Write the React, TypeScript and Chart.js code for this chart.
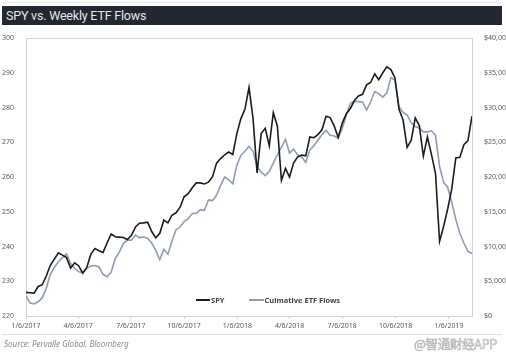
import React, { useEffect, useRef } from "react";
import { Chart, registerables } from "chart.js";

Chart.register(...registerables);

// Weekly observations starting 1/6/2017 (index = weeks since 1/6/2017)
const spy: number[] = [
  226.8, 226.7, 226.6, 228.5, 229.0, 231.5, 234.6, 236.4, 238.2, 237.5,
  236.8, 233.8, 235.3, 234.4, 232.3, 234.0, 237.8, 239.4, 238.8, 238.3,
  241.0, 243.6, 242.8, 242.7, 242.6, 242.0, 243.2, 245.6, 246.7, 246.8,
  247.0, 244.3, 242.5, 243.8, 247.6, 246.8, 249.0, 249.7, 251.3, 254.3,
  255.2, 256.9, 258.3, 258.3, 258.0, 258.5, 260.1, 264.0, 265.3, 266.4,
  267.2, 266.5, 272.5, 276.8, 279.5, 285.8, 276.8, 261.2, 272.5, 274.0,
  269.0, 278.5, 274.6, 259.0, 262.5, 260.0, 264.0, 265.8, 266.3, 266.1,
  271.5, 271.3, 272.2, 273.6, 277.5, 277.1, 274.7, 271.4, 275.5, 278.2,
  279.7, 282.0, 283.3, 283.8, 286.5, 287.2, 289.7, 288.0, 290.0, 291.7,
  290.9, 288.5, 279.5, 276.4, 268.5, 270.5, 277.0, 274.8, 266.0, 271.5,
  266.5, 261.0, 241.5, 245.8, 250.8, 256.5, 265.5, 265.7, 269.3, 270.5,
  277.5,
];

const etfFlows: number[] = [
  2900, 1850, 1750, 2050, 2600, 4000, 6000, 7000, 7800, 8400,
  8900, 7550, 6900, 6350, 6250, 6850, 7200, 7250, 7050, 6000,
  5650, 6300, 8250, 9200, 10400, 10950, 10900, 11650, 11250, 11400,
  11150, 10500, 9450, 8100, 9600, 8900, 10800, 12400, 12800, 13600,
  14000, 14750, 14750, 15300, 15200, 16700, 16600, 17400, 18800, 20000,
  19600, 19050, 21700, 23150, 23700, 24400, 23700, 21500, 20700, 20200,
  20800, 22000, 23200, 24300, 25400, 23450, 24000, 23200, 22850, 22100,
  23900, 24500, 25300, 26100, 26700, 26000, 25900, 25600, 27000, 28900,
  30600, 30900, 30850, 30800, 29650, 30800, 32300, 32000, 31500, 32100,
  34300, 33900, 30100, 29300, 28900, 27800, 27250, 27050, 26500, 26500,
  26650, 26000, 21500, 19250, 18500, 16400, 13900, 11900, 10500, 9300,
  9000,
];

const tickLabels: string[] = [
  "1/6/2017", "4/6/2017", "7/6/2017", "10/6/2017", "1/6/2018",
  "4/6/2018", "7/6/2018", "10/6/2018", "1/6/2019",
];
// days after 1/6/2017 for each tick label
const tickDays: number[] = [0, 90, 181, 273, 365, 455, 546, 638, 730];

const seriesNames: string[] = ["SPY", "Culmative ETF Flows"];
const title = "SPY vs. Weekly ETF Flows";
const source = "Source: Pervalle Global, Bloomberg";

const SPY_COLOR = "#1c1c1c";
const ETF_COLOR = "#8d9db2";
const AXIS_COLOR = "#d4d4d4";
const TICK_COLOR = "#5a5a5a";

const boxPlugin = {
  id: "boxPlugin",
  beforeDatasetsDraw(chart: any) {
    const { ctx, chartArea } = chart;
    ctx.save();
    ctx.strokeStyle = AXIS_COLOR;
    ctx.lineWidth = 1;
    ctx.strokeRect(
      Math.round(chartArea.left) + 0.5,
      Math.round(chartArea.top) + 0.5,
      Math.round(chartArea.right - chartArea.left),
      Math.round(chartArea.bottom - chartArea.top)
    );
    ctx.restore();
  },
};

export default function App() {
  const ref = useRef<HTMLCanvasElement | null>(null);

  useEffect(() => {
    if (!ref.current) return;
    const weeks = spy.map((_, i) => i);
    const tickFont = { family: "'Noto Sans', 'DejaVu Sans', sans-serif", size: 7 };
    const chart = new Chart(ref.current, {
      type: "line",
      data: {
        datasets: [
          {
            label: seriesNames[0],
            data: weeks.map((w, i) => ({ x: w, y: spy[i] })),
            borderColor: SPY_COLOR,
            borderWidth: 1.6,
            pointRadius: 0,
            tension: 0,
            yAxisID: "y",
          },
          {
            label: seriesNames[1],
            data: weeks.map((w, i) => ({ x: w, y: etfFlows[i] })),
            borderColor: ETF_COLOR,
            borderWidth: 1.6,
            pointRadius: 0,
            tension: 0,
            yAxisID: "y2",
          },
        ],
      },
      options: {
        animation: false,
        responsive: false,
        maintainAspectRatio: false,
        layout: { padding: { top: 38, left: 0, right: 0, bottom: 24 } },
        plugins: {
          legend: { display: false },
          tooltip: { enabled: false },
          title: { display: false },
        },
        scales: {
          x: {
            type: "linear",
            min: 0,
            max: spy.length - 1,
            afterBuildTicks(scale: any) {
              scale.ticks = tickDays.map((d) => ({ value: d / 7 }));
            },
            afterFit(scale: any) {
              scale.height = 16;
            },
            ticks: {
              autoSkip: false,
              maxRotation: 0,
              color: TICK_COLOR,
              font: tickFont,
              padding: 3,
              callback: (_v: any, i: number) => tickLabels[i],
            },
            grid: {
              display: true,
              drawOnChartArea: false,
              drawTicks: true,
              tickLength: 3,
              color: AXIS_COLOR,
            },
            border: { display: true, color: AXIS_COLOR },
          },
          y: {
            position: "left",
            min: 220,
            max: 300,
            afterFit(scale: any) {
              scale.width = 26;
            },
            ticks: {
              stepSize: 10,
              color: TICK_COLOR,
              font: tickFont,
              padding: 4,
            },
            grid: { display: false },
            border: { display: true, color: AXIS_COLOR },
          },
          y2: {
            position: "right",
            min: 0,
            max: 40000,
            afterFit(scale: any) {
              scale.width = 34;
            },
            ticks: {
              stepSize: 5000,
              color: TICK_COLOR,
              font: tickFont,
              padding: 4,
              callback: (v: any) => "$" + Number(v).toLocaleString("en-US"),
            },
            grid: { display: false },
            border: { display: true, color: AXIS_COLOR },
          },
        },
      },
      plugins: [boxPlugin],
    } as any);
    return () => chart.destroy();
  }, []);

  const legendText: React.CSSProperties = {
    fontFamily: "'Noto Sans', 'DejaVu Sans', sans-serif",
    fontSize: 7.5,
    fontWeight: 700,
    color: "#444",
    lineHeight: "10px",
  };

  return (
    <div
      style={{
        position: "fixed",
        left: 0,
        top: 0,
        width: 506,
        height: 356,
        background: "#ffffff",
        overflow: "hidden",
      }}
    >
      <div
        style={{
          position: "absolute",
          left: 2,
          top: 2,
          width: 500,
          height: 1,
          background: "#e4e4e4",
        }}
      />
      <div
        style={{
          position: "absolute",
          left: 2,
          top: 6,
          width: 500,
          height: 19,
          background: "#222732",
        }}
      />
      <div
        style={{
          position: "absolute",
          left: 6,
          top: 6,
          height: 19,
          lineHeight: "19px",
          color: "#e6e6e6",
          fontFamily: "Roboto, 'Liberation Sans', sans-serif",
          fontSize: 12.5,
          letterSpacing: -0.2,
        }}
      >
        {title}
      </div>
      <canvas
        ref={ref}
        width={506}
        height={356}
        style={{ position: "absolute", left: 0, top: 0, width: 506, height: 356 }}
      />
      <div
        style={{
          position: "absolute",
          left: 196,
          top: 295,
          display: "flex",
          alignItems: "center",
          ...legendText,
        }}
      >
        <span style={{ display: "inline-block", width: 14, height: 1.5, background: SPY_COLOR }} />
        <span style={{ marginLeft: 1 }}>{seriesNames[0]}</span>
        <span
          style={{
            display: "inline-block",
            width: 15,
            height: 1.5,
            background: ETF_COLOR,
            marginLeft: 24,
          }}
        />
        <span style={{ marginLeft: 1 }}>{seriesNames[1]}</span>
      </div>
      <div
        style={{
          position: "absolute",
          left: 2,
          top: 334,
          width: 500,
          height: 1,
          background: "#e2e2e2",
        }}
      />
      <div
        style={{
          position: "absolute",
          left: 4,
          top: 338,
          fontFamily: "'Noto Sans', 'DejaVu Sans', sans-serif",
          fontStyle: "italic",
          fontSize: 8,
          color: "#8a8a8a",
          lineHeight: "12px",
        }}
      >
        {source}
      </div>
      <div
        style={{
          position: "absolute",
          left: 414,
          top: 336,
          fontFamily: "'Noto Sans CJK SC', sans-serif",
          fontSize: 12.5,
          letterSpacing: -0.3,
          color: "#f2f2f2",
          WebkitTextStroke: "0.6px #b0b0b0",
          lineHeight: "16px",
          whiteSpace: "nowrap",
        }}
      >
        @智通财经APP
      </div>
    </div>
  );
}
